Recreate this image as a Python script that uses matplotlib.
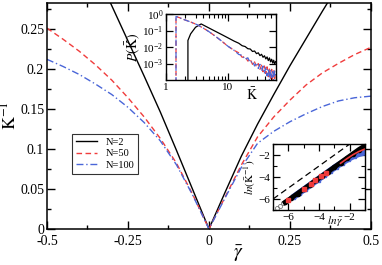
import numpy as np
import matplotlib
matplotlib.use('Agg')
import matplotlib.pyplot as plt
from matplotlib.ticker import MultipleLocator, FuncFormatter, NullLocator, NullFormatter

plt.rcParams['font.family'] = 'Liberation Serif'
plt.rcParams['mathtext.fontset'] = 'stix'

# main panel: inverse mean degree vs mean gamma
gam = [-0.5, -0.45, -0.4, -0.35, -0.3, -0.25, -0.2, -0.15, -0.1, -0.05, 0.0,
       0.05, 0.1, 0.15, 0.2, 0.25, 0.3, 0.35, 0.4, 0.45, 0.5]
k_n50 = [0.251, 0.237, 0.222, 0.205, 0.186, 0.164, 0.140, 0.113, 0.082, 0.043, 0.0,
         0.040, 0.080, 0.115, 0.140, 0.161, 0.180, 0.195, 0.207, 0.218, 0.227]
k_n100 = [0.212, 0.203, 0.193, 0.181, 0.168, 0.152, 0.133, 0.110, 0.080, 0.042, 0.0,
          0.039, 0.077, 0.107, 0.122, 0.134, 0.144, 0.153, 0.160, 0.164, 0.166]
gam_n2 = [-0.32, -0.3, -0.25, -0.2, -0.15, -0.1, -0.05, 0.0,
          0.05, 0.1, 0.15, 0.2, 0.25, 0.3, 0.35, 0.4]
k_n2 = [0.296, 0.279, 0.235, 0.191, 0.146, 0.098, 0.049, 0.0,
        0.046, 0.091, 0.131, 0.168, 0.204, 0.238, 0.272, 0.305]

# inset 1: degree distribution (log10 P)
tail_k = [15, 17, 19, 21, 23, 25, 27, 29, 31, 33, 35, 37, 39, 41, 43, 45, 47, 49, 51, 53, 55, 57, 59]
pk_k50 = [1.45, 1.45, 1.6, 2, 2.5, 3.2, 4, 5, 6.3, 8, 10, 12.6] + tail_k
pk_p50 = [-4.2, -0.15, -0.2, -0.35, -0.48, -0.65, -0.85, -1.08, -1.35, -1.65, -1.95, -2.2,
          -2.35, -2.62, -2.58, -2.85, -2.75, -3.05, -2.9, -3.2, -3.0, -3.35, -3.1, -3.5,
          -3.15, -3.6, -3.2, -3.8, -3.3, -3.9, -3.35, -4.0, -3.4, -3.9, -3.5]
pk_p100 = [-4.2, -0.15, -0.2, -0.35, -0.48, -0.65, -0.85, -1.08, -1.35, -1.65, -1.95, -2.2,
           -2.45, -2.5, -2.75, -2.65, -2.95, -2.85, -3.15, -2.95, -3.3, -3.05, -3.45, -3.15,
           -3.6, -3.2, -3.75, -3.3, -4.0, -3.35, -3.85, -3.4, -4.0, -3.45, -3.8]
pk_k2 = [2.26, 2.26, 2.5, 3.0, 3.7, 5, 6.3, 8, 10, 12.6] + tail_k
pk_p2 = [-4.2, -1.6, -1.2, -0.8, -0.6, -0.855, -1.05, -1.25, -1.44, -1.64,
         -1.77, -1.92, -1.97, -2.1, -2.12, -2.27, -2.24, -2.4, -2.35, -2.52, -2.44, -2.62,
         -2.53, -2.72, -2.6, -2.82, -2.66, -2.9, -2.74, -2.97, -2.8, -3.05, -2.88]

# inset 2: ln(K^-1) vs ln(gamma)
lg_small = [-6.75, -6.55, -6.35, -6.15, -5.95, -5.75]
lk_small = [-6.8, -6.6, -6.4, -6.2, -6.0, -5.8]
lg_black = [-6.2, -5.8, -5.4, -5.0, -4.6, -4.2, -3.8, -3.4, -3.0, -2.6, -2.2, -1.8, -1.4, -1.0]
lk_black = [-6.3, -5.9, -5.5, -5.1, -4.7, -4.3, -3.9, -3.5, -3.1, -2.7, -2.3, -1.9, -1.5, -1.15]
lg_red_pts = [-6.05, -5.0, -4.55, -4.25, -3.9, -3.55]
lk_red_pts = [-6.1, -5.05, -4.6, -4.3, -3.95, -3.6]
lg_red = [-2.6, -2.2, -1.8, -1.4, -1.0]
lk_red = [-2.75, -2.35, -1.98, -1.68, -1.45]
lg_blue = [-5.7, -5.3, -4.9, -4.5, -4.1, -3.7, -3.3, -2.9, -2.5, -2.1, -1.7, -1.3, -1.0]
lk_blue = [-5.85, -5.45, -5.05, -4.65, -4.25, -3.85, -3.45, -3.05, -2.7, -2.35, -2.05, -1.85, -1.75]
ref_x = [-7.0, -1.5]
ref_y = [-6.0, -0.5]

red = '#f03c3c'
blue = '#4a66d8'

fig = plt.figure(figsize=(3.82, 2.65), dpi=100)
ax = fig.add_axes([0.123, 0.136, 0.848, 0.853])
ax.plot(gam_n2, k_n2, color='black', lw=1.0, label='N=2')
ax.plot(gam, k_n50, color=red, lw=1.0, dashes=(4, 2.5), label='N=50')
ax.plot(gam, k_n100, color=blue, lw=1.0, dashes=(5, 2, 1, 2), label='N=100')
ax.set_xlim(-0.5, 0.5)
ax.set_ylim(0, 0.2825)
ax.xaxis.set_major_locator(MultipleLocator(0.25))
ax.xaxis.set_minor_locator(MultipleLocator(0.125))
ax.yaxis.set_major_locator(MultipleLocator(0.05))
ax.yaxis.set_minor_locator(MultipleLocator(0.025))
fmt = FuncFormatter(lambda v, p: '%g' % round(v, 3))
ax.xaxis.set_major_formatter(fmt)
ax.yaxis.set_major_formatter(fmt)
ax.tick_params(which='both', direction='in', top=True, right=True, labelsize=10)
ax.tick_params(axis='y', pad=2)
ax.tick_params(axis='x', pad=4)
ax.tick_params(which='major', length=6, width=1)
ax.tick_params(which='minor', length=3, width=1)
for s in ax.spines.values():
    s.set_linewidth(1.1)
ax.set_xlabel(r'$\bar{\gamma}$', fontsize=14)
ax.xaxis.set_label_coords(0.59, -0.065)
ax.set_ylabel(r'$\bar{\mathrm{K}}^{-1}$', fontsize=13, labelpad=0)
leg = ax.legend(loc='lower left', bbox_to_anchor=(0.077, 0.243), fontsize=7.5,
                frameon=True, fancybox=False, edgecolor='black', borderaxespad=0,
                handlelength=2.0, handletextpad=0.8, borderpad=0.4, labelspacing=0.2)
leg.get_frame().set_linewidth(0.8)

# inset 1
a1 = fig.add_axes([0.4346, 0.698, 0.288, 0.249])
a1.semilogy(pk_k2, 10 ** np.array(pk_p2), color='black', lw=0.9)
a1.semilogy(pk_k50, 10 ** np.array(pk_p50), color=red, lw=0.9, dashes=(4, 2))
a1.semilogy(pk_k50, 10 ** np.array(pk_p100), color=blue, lw=0.9, dashes=(5, 2, 1, 2))
a1.set_xscale('log')
a1.set_xlim(1, 60)
a1.set_ylim(1e-4, 1.0)
a1.set_yticks([1e-3, 1e-2, 1e-1, 1e0])
a1.yaxis.set_minor_locator(NullLocator())
a1.yaxis.set_minor_formatter(NullFormatter())
a1.set_xticks([1, 10])
a1.set_xticklabels(['1', '10'])
a1.xaxis.set_minor_formatter(NullFormatter())
a1.tick_params(which='both', direction='in', top=True, right=True, labelsize=8, pad=2)
a1.tick_params(which='major', length=5, width=0.9)
a1.tick_params(which='minor', length=3, width=0.8)
for s in a1.spines.values():
    s.set_linewidth(1.0)
a1.set_ylabel(r'$P(\bar{\mathrm{K}})$', fontsize=10, labelpad=0)
a1.text(0.78, -0.1, r'$\bar{\mathrm{K}}$', transform=a1.transAxes, fontsize=10, va='top', ha='center')

# inset 2
a2 = fig.add_axes([0.7147, 0.2075, 0.241, 0.249])
a2.plot(ref_x, ref_y, color='black', lw=0.9, dashes=(5, 3))
a2.plot(lg_small, lk_small, 'o', mfc='none', mec='#777777', ms=3, mew=0.6)
a2.plot(lg_blue, lk_blue, color=blue, lw=4.5, marker='s', ms=3, solid_capstyle='butt')
a2.plot(lg_black, lk_black, color='black', lw=3.5, marker='o', ms=3)
a2.plot(lg_red, lk_red, color=red, lw=1.2)
a2.plot(lg_red_pts, lk_red_pts, 's', color=red, ms=2.5)
a2.set_xlim(-7, -1)
a2.set_ylim(-7, -1)
a2.xaxis.set_major_locator(MultipleLocator(2))
a2.xaxis.set_minor_locator(MultipleLocator(1))
a2.yaxis.set_major_locator(MultipleLocator(2))
a2.yaxis.set_minor_locator(MultipleLocator(1))
a2.tick_params(which='both', direction='in', top=True, right=True, labelsize=8, pad=2)
a2.tick_params(which='major', length=5, width=0.9)
a2.tick_params(which='minor', length=3, width=0.8)
for s in a2.spines.values():
    s.set_linewidth(1.0)
a2.set_ylabel(r'$ln(\bar{\mathrm{K}}^{-1})$', fontsize=8, labelpad=0)
a2.text(0.68, -0.06, r'$ln\,\bar{\gamma}$', transform=a2.transAxes, fontsize=8, va='top', ha='center')

fig.savefig('out.png', dpi=100)
